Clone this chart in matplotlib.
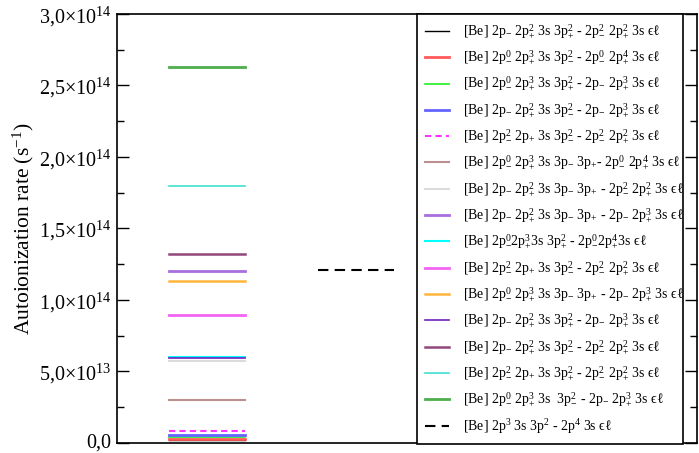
import matplotlib
matplotlib.use("Agg")
import numpy as np
from matplotlib import pyplot as plt
from matplotlib.ticker import MultipleLocator, FuncFormatter

plt.rcParams['font.family'] = ['Liberation Serif', 'DejaVu Serif']
plt.rcParams['mathtext.fontset'] = 'custom'
plt.rcParams['mathtext.rm'] = 'Liberation Serif'
plt.rcParams['mathtext.it'] = 'Liberation Serif:italic'

# legend labels (configurations of the autoionizing transitions)
labels = [
    r"[Be] 2p$_{-}$ 2p$_{+}^{2}$ 3s 3p$_{+}^{2}$ - 2p$_{-}^{2}$ 2p$_{+}^{2}$ 3s ϵℓ",
    r"[Be] 2p$_{-}^{0}$ 2p$_{+}^{3}$ 3s 3p$_{-}^{2}$ - 2p$_{-}^{0}$ 2p$_{+}^{4}$ 3s ϵℓ",
    r"[Be] 2p$_{-}^{0}$ 2p$_{+}^{3}$ 3s 3p$_{+}^{2}$ - 2p$_{-}$ 2p$_{+}^{3}$ 3s ϵℓ",
    r"[Be] 2p$_{-}$ 2p$_{+}^{2}$ 3s 3p$_{-}^{2}$ - 2p$_{-}$ 2p$_{+}^{3}$ 3s ϵℓ",
    r"[Be] 2p$_{-}^{2}$ 2p$_{+}$ 3s 3p$_{-}^{2}$ - 2p$_{-}^{2}$ 2p$_{+}^{2}$ 3s ϵℓ",
    r"[Be] 2p$_{-}^{0}$ 2p$_{+}^{3}$ 3s 3p$_{-}$ 3p$_{+}$- 2p$_{-}^{0}$ 2p$_{+}^{4}$ 3s ϵℓ",
    r"[Be] 2p$_{-}$ 2p$_{+}^{2}$ 3s 3p$_{-}$ 3p$_{+}$ - 2p$_{-}^{2}$ 2p$_{+}^{2}$ 3s ϵℓ",
    r"[Be] 2p$_{-}$ 2p$_{+}^{2}$ 3s 3p$_{-}$ 3p$_{+}$ - 2p$_{-}$ 2p$_{+}^{3}$ 3s ϵℓ",
    r"[Be] 2p$_{-}^{0}$2p$_{+}^{3}$3s 3p$_{+}^{2}$ - 2p$_{-}^{0}$2p$_{+}^{4}$3s ϵℓ",
    r"[Be] 2p$_{-}^{2}$ 2p$_{+}$ 3s 3p$_{-}^{2}$ - 2p$_{-}^{2}$ 2p$_{+}^{2}$ 3s ϵℓ",
    r"[Be] 2p$_{-}^{0}$ 2p$_{+}^{3}$ 3s 3p$_{-}$ 3p$_{+}$ - 2p$_{-}$ 2p$_{+}^{3}$ 3s ϵℓ",
    r"[Be] 2p$_{-}$ 2p$_{+}^{2}$ 3s 3p$_{+}^{2}$ - 2p$_{-}$ 2p$_{+}^{3}$ 3s ϵℓ",
    r"[Be] 2p$_{-}$ 2p$_{+}^{2}$ 3s 3p$_{-}^{2}$ - 2p$_{-}^{2}$ 2p$_{+}^{2}$ 3s ϵℓ",
    r"[Be] 2p$_{-}^{2}$ 2p$_{+}$ 3s 3p$_{+}^{2}$ - 2p$_{-}^{2}$ 2p$_{+}^{2}$ 3s ϵℓ",
    r"[Be] 2p$_{-}^{0}$ 2p$_{+}^{3}$ 3s  3p$_{-}^{2}$ - 2p$_{-}$ 2p$_{+}^{3}$ 3s ϵℓ",
    r"[Be] 2p$^{3}$ 3s 3p$^{2}$ - 2p$^{4}$ 3s ϵℓ",
]

# autoionization rates (s^-1)
rates = [0.022e14, 0.026e14, 0.040e14, 0.054e14, 0.082e14, 0.298e14,
         0.571e14, 1.205e14, 0.603e14, 0.897e14, 1.135e14, 0.594e14,
         1.320e14, 1.800e14, 2.627e14, 1.210e14]

# column: 1 = relativistic subshells, 2 = non-relativistic average
column = [1] * 15 + [2]

colors = ['black', '#ff5a5a', '#22ee22', '#6464ff', '#ff33ff', '#bc8f8f',
          '#dcdcdc', '#a86ee0', '#00ffff', '#f464f4', '#ffb53c', '#7020c0',
          '#92467a', '#40e0d0', '#4cae4c', 'black']
widths = [1.0, 2.0, 1.2, 2.0, 1.5, 1.5, 1.5, 2.0, 1.5, 2.0, 1.8, 1.2,
          1.8, 1.2, 2.0, 1.5]
styles = ['-'] * 4 + [(0, (3, 2))] + ['-'] * 10 + [(0, (5, 3))]

fig = plt.figure(figsize=(6.99, 4.53), dpi=100)
ax = fig.add_axes([0.1674, 0.0221, 0.8296, 0.9470])

half = 0.254
for r, c, col, lw, ls, lab in zip(rates, column, colors, widths, styles, labels):
    ax.plot([c - half, c + half], [r, r], color=col, lw=lw, ls=ls, label=lab)

ax.set_xlim(0.398, 4.278)
ax.set_ylim(0, 3.0e14)
ax.set_xticks([])


def fmt(v, pos):
    if v <= 0:
        return "0,0"
    e = int(np.floor(np.log10(v) + 1e-9))
    m = v / 10 ** e
    return ("%.1f" % m).replace('.', ',') + "×10$^{%d}$" % e


ax.yaxis.set_major_locator(MultipleLocator(0.5e14))
ax.yaxis.set_minor_locator(MultipleLocator(0.25e14))
ax.yaxis.set_major_formatter(FuncFormatter(fmt))
ax.tick_params(axis='y', which='both', direction='in', left=True, right=True,
               labelsize=14.5, pad=4)
ax.tick_params(axis='y', which='major', length=8.5, width=1)
ax.tick_params(axis='y', which='minor', length=5, width=1)
for s in ax.spines.values():
    s.set_linewidth(1.2)

ax.set_ylabel("Autoionization rate (s$^{-1}$)", fontsize=15.5)
ax.yaxis.set_label_coords(-0.139, 0.5)

leg = ax.legend(loc='upper left', bbox_to_anchor=(0.517, 0.0, 0.459, 1.0),
                mode='expand', borderaxespad=0, fontsize=10, frameon=True,
                fancybox=False, handlelength=1.75, handletextpad=0.95,
                labelspacing=0.57, borderpad=0.6)
leg.get_frame().set_edgecolor('black')
leg.get_frame().set_linewidth(1.2)
leg.get_frame().set_alpha(1)

# keep the "0,0" label inside the figure
fig.canvas.draw()
for t in ax.yaxis.get_major_ticks():
    if t.label1.get_text() == "0,0":
        t.label1.set_verticalalignment('center')

plt.savefig('out.png', dpi=100)
